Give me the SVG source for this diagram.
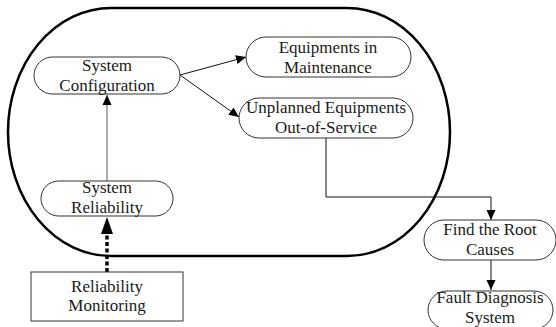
<svg xmlns="http://www.w3.org/2000/svg" width="556" height="327" viewBox="0 0 556 327">
  <style>
    .pill { fill: #ffffff; stroke: #333333; stroke-width: 1; }
    .box { fill: #ffffff; stroke: #333333; stroke-width: 1; }
    .label { font-family: "Liberation Serif", "Times New Roman", serif; font-size: 17px; fill: #1a1a1a; text-anchor: middle; }
    .link { fill: none; stroke: #111111; stroke-width: 1; }
    .link-grey { fill: none; stroke: #777777; stroke-width: 1.2; }
    .monitor { fill: none; stroke: #000000; stroke-width: 3.5; stroke-dasharray: 4 2.5; }
    .boundary { fill: none; stroke: #000000; stroke-width: 2.5; }
  </style>
  <defs>
    <marker id="arrow" viewBox="0 0 10 10" refX="10" refY="5" markerWidth="10" markerHeight="10" markerUnits="userSpaceOnUse" orient="auto">
      <path d="M0,0.5 L10,5 L0,9.5 Z" fill="#000000"/>
    </marker>
  </defs>

  <rect width="556" height="327" fill="#ffffff"/>

  <!-- system boundary -->
  <rect class="boundary" x="8" y="8" width="442" height="248" rx="103" ry="124"/>

  <!-- connectors -->
  <g id="connectors">
    <line class="link-grey" x1="107" y1="181" x2="107" y2="95" marker-end="url(#arrow)"/>
    <line class="link" x1="180" y1="75" x2="246" y2="57" marker-end="url(#arrow)"/>
    <line class="link" x1="180" y1="75" x2="239" y2="117" marker-end="url(#arrow)"/>
    <polyline class="link" points="326,138 326,197 491,197 491,220" marker-end="url(#arrow)"/>
    <line class="link" x1="491" y1="260" x2="491" y2="290" marker-end="url(#arrow)"/>
    <!-- dotted monitoring link with its heavy arrowhead -->
    <line class="monitor" x1="107" y1="272" x2="107" y2="229"/>
    <path d="M101,234 L107,217 L113,234 Z" fill="#000000"/>
  </g>

  <g id="system-configuration">
    <rect class="pill" x="34" y="57" width="146" height="37" rx="18.5"/>
    <text class="label" x="107" y="70.5">System</text>
    <text class="label" x="107" y="90.5">Configuration</text>
  </g>

  <g id="equipments-maintenance">
    <rect class="pill" x="246" y="37" width="165" height="40" rx="20"/>
    <text class="label" x="328" y="52.5">Equipments in</text>
    <text class="label" x="328" y="72.5">Maintenance</text>
  </g>

  <g id="unplanned-out-of-service">
    <rect class="pill" x="239" y="98" width="174" height="40" rx="20"/>
    <text class="label" x="326" y="112.5">Unplanned Equipments</text>
    <text class="label" x="326" y="132.5">Out-of-Service</text>
  </g>

  <g id="system-reliability">
    <rect class="pill" x="41" y="181" width="132" height="35" rx="17.5"/>
    <text class="label" x="107" y="193">System</text>
    <text class="label" x="107" y="213">Reliability</text>
  </g>

  <g id="reliability-monitoring">
    <rect class="box" x="31" y="272" width="152" height="49"/>
    <text class="label" x="107" y="292">Reliability</text>
    <text class="label" x="107" y="310.5">Monitoring</text>
  </g>

  <g id="find-root-causes">
    <rect class="pill" x="424" y="220" width="132" height="40" rx="20"/>
    <text class="label" x="490" y="235">Find the Root</text>
    <text class="label" x="490" y="255">Causes</text>
  </g>

  <g id="fault-diagnosis">
    <rect class="pill" x="428" y="291" width="125" height="38" rx="19"/>
    <text class="label" x="490" y="303">Fault Diagnosis</text>
    <text class="label" x="490" y="323">System</text>
  </g>
</svg>
